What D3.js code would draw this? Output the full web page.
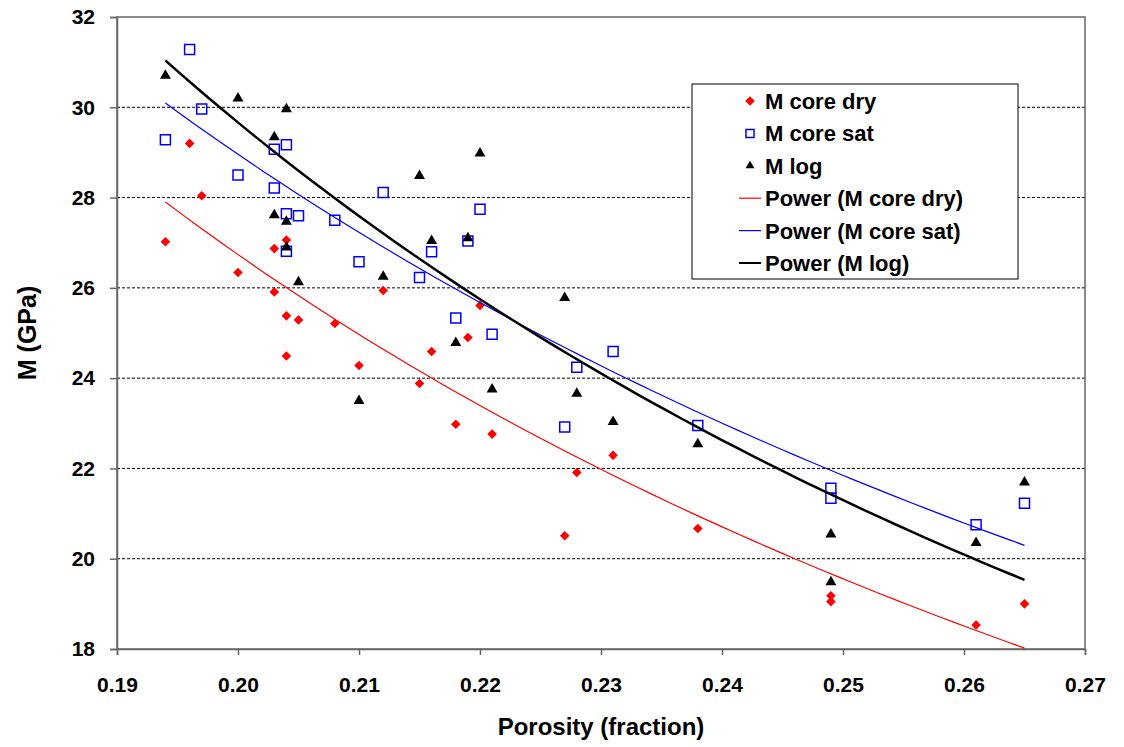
<!DOCTYPE html>
<head>
<meta charset="utf-8">
<style>
  body { margin: 0; background: #fff; }
  text { font-family: Arial, "Liberation Sans", sans-serif; font-weight: bold; }
</style>
</head>
<body>
<svg width="1124" height="747" id="svgMain"></svg>
<script src="https://cdn.jsdelivr.net/npm/d3@7"></script>
<script>
// ---------------- data ----------------
var porosity = [0.194, 0.196, 0.197, 0.200, 0.203, 0.203, 0.204, 0.204, 0.204, 0.205,
                0.208, 0.210, 0.212, 0.215, 0.216, 0.218, 0.219, 0.220, 0.221, 0.227,
                0.228, 0.231, 0.238, 0.249, 0.249, 0.261, 0.265];
var mCoreDry = [27.02, 29.20, 28.04, 26.34, 26.87, 25.91, 27.06, 25.38, 24.49, 25.29,
                25.21, 24.28, 25.94, 23.88, 24.59, 22.98, 24.90, 25.61, 22.76, 20.51,
                21.91, 22.29, 20.67, 19.18, 19.05, 18.53, 19.00];
var mCoreSat = [29.28, 31.28, 29.96, 28.50, 29.07, 28.21, 29.17, 27.64, 26.81, 27.60,
                27.50, 26.58, 28.11, 26.23, 26.80, 25.33, 27.04, 27.74, 24.97, 22.92,
                24.24, 24.59, 22.95, 21.56, 21.34, 20.75, 21.23];
var mLog     = [30.70, null, null, 30.20, 29.34, 27.61, 29.96, 27.47, 26.90, 26.13,
                null, 23.50, 26.25, 28.48, 27.04, 24.78, 27.10, 28.98, 23.75, 25.78,
                23.66, 23.03, 22.54, 20.54, 19.48, 20.35, 21.69];

// power trendlines y = a * x^b, coefficients
var trendA = [2.800, 3.793, 2.718];
var trendB = [-1.402, -1.263, -1.485];

var xTicks = [0.19, 0.20, 0.21, 0.22, 0.23, 0.24, 0.25, 0.26, 0.27];
var yTicks = [18, 20, 22, 24, 26, 28, 30, 32];
var seriesNames = ["M core dry", "M core sat", "M log"];
var trendNames = ["Power (M core dry)", "Power (M core sat)", "Power (M log)"];
var colors = ["#ff0000", "#0000ff", "#000000"];

// ---------------- layout ----------------
var svg = d3.select("svg"),
    margin = {top: 17, right: 39, bottom: 98, left: 117},
    width = +svg.attr("width") - margin.left - margin.right,
    height = +svg.attr("height") - margin.top - margin.bottom,
    g = svg.append("g").attr("transform", "translate(" + margin.left + "," + margin.top + ")");

var x = d3.scaleLinear().domain([0.19, 0.27]).range([0, width]),
    y = d3.scaleLinear().domain([18, 32]).range([height, 0]);

// gridlines (dashed), skip the frame edges
g.append("g")
    .selectAll("line")
    .data(yTicks.filter(function(d) { return d > 18 && d < 32; }))
    .enter().append("line")
    .attr("x1", 0).attr("x2", width)
    .attr("y1", function(d) { return y(d); })
    .attr("y2", function(d) { return y(d); })
    .attr("stroke", "#000")
    .attr("stroke-width", 1)
    .attr("stroke-dasharray", "3,2");

// frame
g.append("rect")
    .attr("width", width).attr("height", height)
    .attr("fill", "none")
    .attr("stroke", "#666")
    .attr("stroke-width", 1.5);

// axes
var xAxis = g.append("g")
    .attr("transform", "translate(0," + height + ")")
    .call(d3.axisBottom(x).tickValues(xTicks).tickSize(6).tickPadding(22).tickFormat(d3.format(".2f")));
var yAxis = g.append("g")
    .call(d3.axisLeft(y).tickValues(yTicks).tickSize(7).tickPadding(15).tickFormat(d3.format("d")));

[xAxis, yAxis].forEach(function(a) {
  a.select(".domain").attr("stroke", "#666").attr("stroke-width", 1.5);
  a.selectAll(".tick line").attr("stroke", "#666").attr("stroke-width", 1.5);
  a.selectAll(".tick text").attr("fill", "#000").style("font-size", "21px").style("font-weight", "bold");
});

// axis titles
svg.append("text")
    .attr("x", margin.left + width / 2)
    .attr("y", 735)
    .attr("text-anchor", "middle")
    .style("font-size", "24px")
    .text("Porosity (fraction)");

svg.append("text")
    .attr("transform", "translate(36," + (margin.top + height / 2) + ") rotate(-90)")
    .attr("text-anchor", "middle")
    .style("font-size", "25px")
    .text("M (GPa)");

// ---------------- markers ----------------
var diamond = d3.symbol().type(d3.symbolSquare).size(46),
    square = d3.symbol().type(d3.symbolSquare).size(100),
    triangle = d3.symbol().type(d3.symbolTriangle).size(52);

function pts(vals) {
  return porosity.map(function(p, i) { return {x: p, y: vals[i]}; })
    .filter(function(d) { return d.y != null; });
}

g.append("g").selectAll("path")
    .data(pts(mCoreDry)).enter().append("path")
    .attr("d", diamond)
    .attr("transform", function(d) { return "translate(" + x(d.x) + "," + y(d.y) + ") rotate(45)"; })
    .attr("fill", colors[0]);

g.append("g").selectAll("path")
    .data(pts(mCoreSat)).enter().append("path")
    .attr("d", square)
    .attr("transform", function(d) { return "translate(" + x(d.x) + "," + y(d.y) + ")"; })
    .attr("fill", "none")
    .attr("stroke", colors[1])
    .attr("stroke-width", 1.5);

g.append("g").selectAll("path")
    .data(pts(mLog)).enter().append("path")
    .attr("d", triangle)
    .attr("transform", function(d) { return "translate(" + x(d.x) + "," + y(d.y) + ")"; })
    .attr("fill", colors[2]);

// ---------------- power trendlines ----------------
var line = d3.line()
    .x(function(d) { return x(d.x); })
    .y(function(d) { return y(d.y); });

[mCoreDry, mCoreSat, mLog].forEach(function(vals, i) {
  var ext = d3.extent(pts(vals), function(d) { return d.x; });
  var curve = d3.range(0, 61).map(function(k) {
    var xv = ext[0] + (ext[1] - ext[0]) * k / 60;
    return {x: xv, y: trendA[i] * Math.pow(xv, trendB[i])};
  });
  g.append("path")
      .datum(curve)
      .attr("d", line)
      .attr("fill", "none")
      .attr("stroke", colors[i])
      .attr("stroke-width", i == 2 ? 2.5 : 1.2);
});

// ---------------- legend ----------------
var legend = svg.append("g").attr("transform", "translate(692,84)");
legend.append("rect")
    .attr("width", 326).attr("height", 195)
    .attr("fill", "#fff")
    .attr("stroke", "#000")
    .attr("stroke-width", 1);

var rowY = function(i) { return 17 + i * 32.4; };
var shapes = [diamond, d3.symbol().type(d3.symbolSquare).size(64), d3.symbol().type(d3.symbolTriangle).size(34)];

seriesNames.forEach(function(name, i) {
  var p = legend.append("path")
      .attr("d", shapes[i])
      .attr("transform", "translate(58," + rowY(i) + ")" + (i == 0 ? " rotate(45)" : ""));
  if (i == 1) p.attr("fill", "none").attr("stroke", colors[1]).attr("stroke-width", 1.5);
  else p.attr("fill", colors[i]);
  legend.append("text")
      .attr("x", 73).attr("y", rowY(i)).attr("dy", "0.36em")
      .style("font-size", "22px")
      .text(name);
});

trendNames.forEach(function(name, j) {
  var i = j + 3;
  legend.append("line")
      .attr("x1", 47).attr("x2", 69)
      .attr("y1", rowY(i)).attr("y2", rowY(i))
      .attr("stroke", colors[j])
      .attr("stroke-width", j == 2 ? 2 : 1.2);
  legend.append("text")
      .attr("x", 73).attr("y", rowY(i)).attr("dy", "0.36em")
      .style("font-size", "22px")
      .text(name);
});
</script>
</body>
